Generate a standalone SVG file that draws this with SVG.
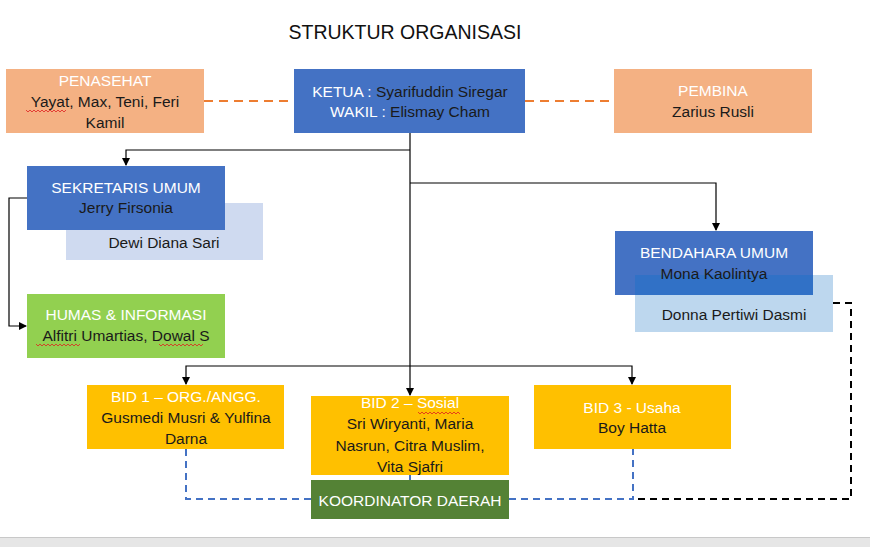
<svg xmlns="http://www.w3.org/2000/svg" width="870" height="547" viewBox="0 0 870 547">
<defs>
<style>
text{font-family:"Liberation Sans",Arial,sans-serif;font-size:15.5px;text-anchor:middle;fill:#1a1a1a}
.h{fill:#ffffff}
.title{font-size:19.5px;fill:#111}
.conn{fill:none;stroke:#000;stroke-width:1.2}
.or{fill:none;stroke:#ED7D31;stroke-width:2;stroke-dasharray:9 6}
.bl{fill:none;stroke:#4472C4;stroke-width:2;stroke-dasharray:7 5}
.bk{fill:none;stroke:#000;stroke-width:2;stroke-dasharray:7 5}
.sq{fill:none;stroke:#e02020;stroke-width:0.8}
</style>
<marker id="ar" viewBox="0 0 8 8" refX="7" refY="4" markerWidth="8" markerHeight="8" markerUnits="userSpaceOnUse" orient="auto">
<path d="M0,0 L8,4 L0,8 Z" fill="#000"/>
</marker>
</defs>
<rect width="870" height="547" fill="#fff"/>
<rect x="0" y="537" width="870" height="10" fill="#E6E6E6"/>
<line x1="0" y1="537.5" x2="870" y2="537.5" stroke="#C8C8C8"/>
<text class="title" x="405" y="39">STRUKTUR ORGANISASI</text>

<g id="connectors">
<path class="or" d="M204,101 H294 M525,101 H614"/>
<path class="conn" d="M410,133 V395" marker-end="url(#ar)"/>
<path class="conn" d="M410,150 H126 V165" marker-end="url(#ar)"/>
<path class="conn" d="M410,183 H716 V230" marker-end="url(#ar)"/>
<path class="conn" d="M410,366 H186 V384" marker-end="url(#ar)"/>
<path class="conn" d="M410,366 H632 V384" marker-end="url(#ar)"/>
<path class="conn" d="M27,198 H9 V326 H26" marker-end="url(#ar)"/>
<path class="bl" d="M186,449 V499 H311 M509,499 H633 V449"/>
<path d="M410,475 V480" stroke="#4472C4" stroke-width="2"/>
<path class="bk" d="M833,303 H851 V499 H634"/>
</g>

<g id="penasehat">
<rect x="6" y="69" width="198" height="64" fill="#F4B183"/>
<text class="h" x="105" y="86">PENASEHAT</text>
<text x="105" y="107">Yayat, Max, Teni, Feri</text>
<text x="105" y="128">Kamil</text>
<path class="sq" d="M26,110 l2,2 l2,-2 l2,2 l2,-2 l2,2 l2,-2 l2,2 l2,-2 l2,2 l2,-2 l2,2 l2,-2 l2,2 l2,-2 l2,2 l2,-2 l2,2 l2,-2 l2,2 l2,-2"/>
</g>

<g id="ketua">
<rect x="294" y="69" width="231" height="64" fill="#4472C4"/>
<text x="410" y="97"><tspan class="h">KETUA : </tspan>Syarifuddin Siregar</text>
<text x="410" y="117"><tspan class="h">WAKIL : </tspan>Elismay Cham</text>
</g>

<g id="pembina">
<rect x="614" y="69" width="198" height="64" fill="#F4B183"/>
<text class="h" x="713" y="96">PEMBINA</text>
<text x="713" y="117">Zarius Rusli</text>
</g>

<g id="sekretaris">
<rect x="66" y="203" width="197" height="57" fill="#CFDAF0"/>
<rect x="27" y="166" width="198" height="64" fill="#4472C4"/>
<text class="h" x="126" y="193">SEKRETARIS UMUM</text>
<text x="126" y="213">Jerry Firsonia</text>
<text x="164" y="248">Dewi Diana Sari</text>
</g>

<g id="humas">
<rect x="27" y="294" width="198" height="64" fill="#92D050"/>
<text class="h" x="126" y="320">HUMAS &amp; INFORMASI</text>
<text x="126" y="341">Alfitri Umartias, Dowal S</text>
<path class="sq" d="M36,344 l2,2 l2,-2 l2,2 l2,-2 l2,2 l2,-2 l2,2 l2,-2 l2,2 l2,-2 l2,2 l2,-2 l2,2 l2,-2 l2,2 l2,-2 l2,2 l2,-2 l2,2 l2,-2 l2,2 l2,-2 M159,344 l2,2 l2,-2 l2,2 l2,-2 l2,2 l2,-2 l2,2 l2,-2 l2,2 l2,-2 l2,2 l2,-2 l2,2 l2,-2 l2,2 l2,-2 l2,2 l2,-2 l2,2 l2,-2 l2,2 l2,-2"/>
</g>

<g id="bendahara">
<rect x="615" y="231" width="198" height="64" fill="#4472C4"/>
<rect x="635" y="275" width="198" height="57" fill="#BDD7EE"/>
<rect x="635" y="275" width="178" height="20" fill="#3171C6"/>
<text class="h" x="714" y="258">BENDAHARA UMUM</text>
<text x="714" y="279">Mona Kaolintya</text>
<text x="734" y="320">Donna Pertiwi Dasmi</text>
</g>

<g id="bid1">
<rect x="87" y="385" width="197" height="64" fill="#FFC000"/>
<text class="h" x="186" y="402">BID 1 – ORG./ANGG.</text>
<text x="186" y="423">Gusmedi Musri &amp; Yulfina</text>
<text x="186" y="444">Darna</text>
</g>

<g id="bid2">
<rect x="311" y="396" width="198" height="79" fill="#FFC000"/>
<text x="410" y="408"><tspan class="h">BID 2 – Sosial</tspan></text>
<text x="410" y="429">Sri Wiryanti, Maria</text>
<text x="410" y="451">Nasrun, Citra Muslim,</text>
<text x="410" y="472">Vita Sjafri</text>
<path class="sq" d="M418,412 l2,2 l2,-2 l2,2 l2,-2 l2,2 l2,-2 l2,2 l2,-2 l2,2 l2,-2 l2,2 l2,-2 l2,2 l2,-2 l2,2 l2,-2 l2,2 l2,-2 l2,2 l2,-2 l2,2"/>
</g>

<g id="bid3">
<rect x="534" y="385" width="197" height="64" fill="#FFC000"/>
<text class="h" x="632" y="413">BID 3 - Usaha</text>
<text x="632" y="433">Boy Hatta</text>
</g>

<g id="koordinator">
<rect x="311" y="480" width="198" height="39" fill="#548235"/>
<text class="h" x="410" y="506">KOORDINATOR DAERAH</text>
</g>
</svg>
